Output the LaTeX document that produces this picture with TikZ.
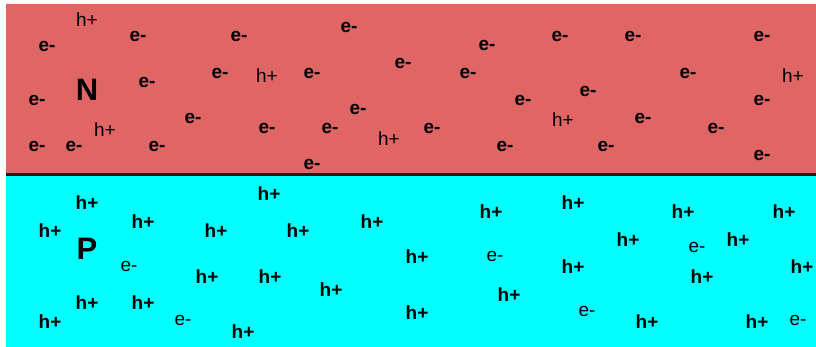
\documentclass[tikz,border=0pt]{standalone}
\usepackage{fontspec}
\setmainfont{Liberation Sans}
\usepackage{xcolor}
\usepackage{tikz}
\definecolor{junred}{HTML}{E06666}
\definecolor{juncyan}{HTML}{00FFFF}
\definecolor{junline}{HTML}{3A1414}
\tikzset{
  carrier/.style={inner sep=0pt, font=\fontsize{19}{21}\selectfont},
  major/.style={carrier, font=\fontsize{19}{21}\selectfont\bfseries},
  minor/.style={carrier},
  region/.style={inner sep=0pt, font=\fontsize{31}{33}\selectfont\bfseries},
}
\begin{document}
\begin{tikzpicture}[x=1pt, y=-1pt]
\useasboundingbox (0,0) rectangle (816,347);
% ---------- n-type side ----------
\fill[junred] (6,4) rectangle (816,175);
\node[region] (nlab) at (87,90) {N};
% majority electrons
\foreach \x/\y [count=\i] in {47/46, 138/36, 239/36, 349/27, 487/45, 560/36, 633/36, 762/36,
    37/100, 147/82, 220/73, 312/73, 403/63, 468/73, 688/73,
    523/100, 588/91, 762/100, 358/109, 193/118,
    37/146, 74/146, 157/146, 267/128, 330/128, 432/128, 643/118, 716/128,
    505/146, 606/146, 762/155, 312/164}{
  \node[major] (ne\i) at (\x,\y) {e-};
}
% minority holes
\foreach \x/\y [count=\i] in {87/20, 267/76, 793/76, 105/130, 389/139, 563/120}{
  \node[minor] (nh\i) at (\x,\y) {h+};
}

% ---------- p-type side ----------
\fill[juncyan] (6,175) rectangle (816,347);
\node[region] (plab) at (87,249) {P};
% majority holes
\foreach \x/\y [count=\i] in {87/203, 50/231, 143/222, 216/231, 269/194, 207/277, 270/277,
    87/303, 143/303, 50/322, 243/332,
    298/231, 372/222, 491/212, 417/257, 331/290, 417/313, 509/295,
    573/203, 683/212, 784/212, 628/240, 738/240, 573/267, 702/277, 802/267,
    647/322, 757/322}{
  \node[major] (ph\i) at (\x,\y) {h+};
}
% minority electrons
\foreach \x/\y [count=\i] in {129/266, 183/320, 495/256, 697/247, 587/311, 798/320}{
  \node[minor] (pe\i) at (\x,\y) {e-};
}

% ---------- junction ----------
\draw[junline, line width=3pt] (6,175) -- (816,175);
\end{tikzpicture}
\end{document}
